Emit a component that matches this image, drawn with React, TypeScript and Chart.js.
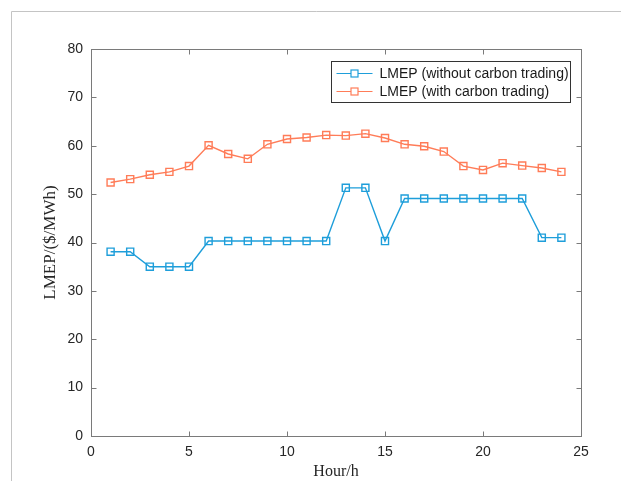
import React, { useEffect, useRef } from "react";
import { Chart, registerables } from "chart.js";

Chart.register(...registerables);

const hours = [1, 2, 3, 4, 5, 6, 7, 8, 9, 10, 11, 12, 13, 14, 15, 16, 17, 18, 19, 20, 21, 22, 23, 24];
const lmepWithout = [38.1, 38.1, 35.0, 35.0, 35.0, 40.3, 40.3, 40.3, 40.3, 40.3, 40.3, 40.3, 51.3, 51.3, 40.3, 49.1, 49.1, 49.1, 49.1, 49.1, 49.1, 49.1, 41.0, 41.0];
const lmepWith = [52.4, 53.1, 54.0, 54.6, 55.8, 60.1, 58.3, 57.3, 60.3, 61.4, 61.7, 62.2, 62.1, 62.5, 61.6, 60.3, 59.9, 58.8, 55.8, 55.0, 56.4, 55.9, 55.4, 54.6];
const xTicks = [0, 5, 10, 15, 20, 25];
const yTicks = [0, 10, 20, 30, 40, 50, 60, 70, 80];
const seriesLabels = ["LMEP (without carbon trading)", "LMEP (with carbon trading)"];
const seriesColors = ["rgb(30,158,218)", "rgb(255,124,88)"];

const SANS = "'Liberation Sans', Arial, sans-serif";
const SERIF = "'Liberation Serif', 'Times New Roman', serif";

const framePlugin = {
  id: "frame",
  beforeDraw(chart: any) {
    const ctx = chart.ctx;
    ctx.save();
    ctx.fillStyle = "#ffffff";
    ctx.fillRect(0, 0, chart.width, chart.height);
    ctx.strokeStyle = "#c4c4c4";
    ctx.lineWidth = 1;
    ctx.beginPath();
    ctx.moveTo(11.5, chart.height);
    ctx.lineTo(11.5, 11.5);
    ctx.lineTo(chart.width, 11.5);
    ctx.stroke();
    ctx.restore();
  },
  afterDatasetsDraw(chart: any) {
    const ctx = chart.ctx;
    const { left, right, top, bottom } = chart.chartArea;
    const xs = chart.scales.x;
    const ys = chart.scales.y;
    ctx.save();
    ctx.strokeStyle = "#7a7a7a";
    ctx.lineWidth = 1;
    const L = Math.round(left) + 0.5;
    const R = Math.round(right) + 0.5;
    const T = Math.round(top) + 0.5;
    const B = Math.round(bottom) + 0.5;
    ctx.strokeRect(L, T, R - L, B - T);
    ctx.beginPath();
    xTicks.forEach((v) => {
      const px = Math.round(xs.getPixelForValue(v)) + 0.5;
      ctx.moveTo(px, B);
      ctx.lineTo(px, B - 5);
      ctx.moveTo(px, T);
      ctx.lineTo(px, T + 5);
    });
    yTicks.forEach((v) => {
      const py = Math.round(ys.getPixelForValue(v)) + 0.5;
      ctx.moveTo(L, py);
      ctx.lineTo(L + 5, py);
      ctx.moveTo(R, py);
      ctx.lineTo(R - 5, py);
    });
    ctx.stroke();

    // legend
    const lx = 331.5, ly = 61.5, lw = 239, lh = 41;
    ctx.fillStyle = "#ffffff";
    ctx.fillRect(lx, ly, lw, lh);
    ctx.strokeStyle = "#333333";
    ctx.strokeRect(lx, ly, lw, lh);
    ctx.font = "14px " + SANS;
    ctx.textBaseline = "middle";
    ctx.textAlign = "left";
    chart.data.datasets.forEach((ds: any, i: number) => {
      const cy = Math.round(ly + 11.5 + i * 18) + 0.5;
      ctx.strokeStyle = ds.borderColor;
      ctx.lineWidth = 1.2;
      ctx.beginPath();
      ctx.moveTo(lx + 5, cy);
      ctx.lineTo(lx + 41, cy);
      ctx.stroke();
      ctx.fillStyle = "#ffffff";
      ctx.fillRect(lx + 19.5, cy - 3.5, 7, 7);
      ctx.strokeRect(lx + 19.5, cy - 3.5, 7, 7);
      ctx.fillStyle = "#1a1a1a";
      ctx.fillText(ds.label, lx + 48, cy + 1);
    });
    ctx.restore();
  },
};

export default function App() {
  const ref = useRef<HTMLCanvasElement | null>(null);
  useEffect(() => {
    if (!ref.current) return;
    const chart = new Chart(ref.current, {
      type: "line",
      data: {
        datasets: [
          {
            label: seriesLabels[0],
            data: hours.map((h, i) => ({ x: h, y: lmepWithout[i] })),
            borderColor: seriesColors[0],
            backgroundColor: "rgba(255,255,255,0)",
            borderWidth: 1.4,
            pointStyle: "rect",
            pointRadius: 5,
            pointBorderWidth: 1.4,
            pointBackgroundColor: "rgba(255,255,255,0)",
            pointBorderColor: seriesColors[0],
            tension: 0,
          },
          {
            label: seriesLabels[1],
            data: hours.map((h, i) => ({ x: h, y: lmepWith[i] })),
            borderColor: seriesColors[1],
            backgroundColor: "rgba(255,255,255,0)",
            borderWidth: 1.4,
            pointStyle: "rect",
            pointRadius: 5,
            pointBorderWidth: 1.4,
            pointBackgroundColor: "rgba(255,255,255,0)",
            pointBorderColor: seriesColors[1],
            tension: 0,
          },
        ],
      },
      options: {
        responsive: false,
        animation: false,
        devicePixelRatio: 1,
        layout: { padding: { left: 0, top: 49, right: 40, bottom: 0 } },
        plugins: { legend: { display: false }, tooltip: { enabled: false } },
        scales: {
          x: {
            type: "linear",
            min: 0,
            max: 25,
            afterBuildTicks: (s: any) => {
              s.ticks = xTicks.map((v) => ({ value: v }));
            },
            afterFit: (s: any) => {
              s.height = 45;
            },
            grid: { display: false, drawTicks: false },
            border: { display: false },
            ticks: { padding: 8, color: "#262626", font: { family: SANS, size: 14 } },
            title: {
              display: true,
              text: "Hour/h",
              color: "#262626",
              font: { family: SERIF, size: 16 },
              padding: { top: 0, bottom: 0 },
            },
          },
          y: {
            type: "linear",
            min: 0,
            max: 80,
            afterBuildTicks: (s: any) => {
              s.ticks = yTicks.map((v) => ({ value: v }));
            },
            afterFit: (s: any) => {
              s.width = 91;
            },
            grid: { display: false, drawTicks: false },
            border: { display: false },
            ticks: { padding: 8, color: "#262626", font: { family: SANS, size: 14 } },
            title: {
              display: true,
              text: "LMEP/($/MWh)",
              color: "#262626",
              font: { family: SERIF, size: 17 },
              padding: { top: 40, bottom: 0 },
            },
          },
        },
      },
      plugins: [framePlugin],
    });
    return () => chart.destroy();
  }, []);
  return (
    <div style={{ position: "absolute", left: 0, top: 0, width: 621, height: 481, background: "#fff" }}>
      <canvas ref={ref} width={621} height={481} style={{ display: "block", width: 621, height: 481 }} />
    </div>
  );
}
